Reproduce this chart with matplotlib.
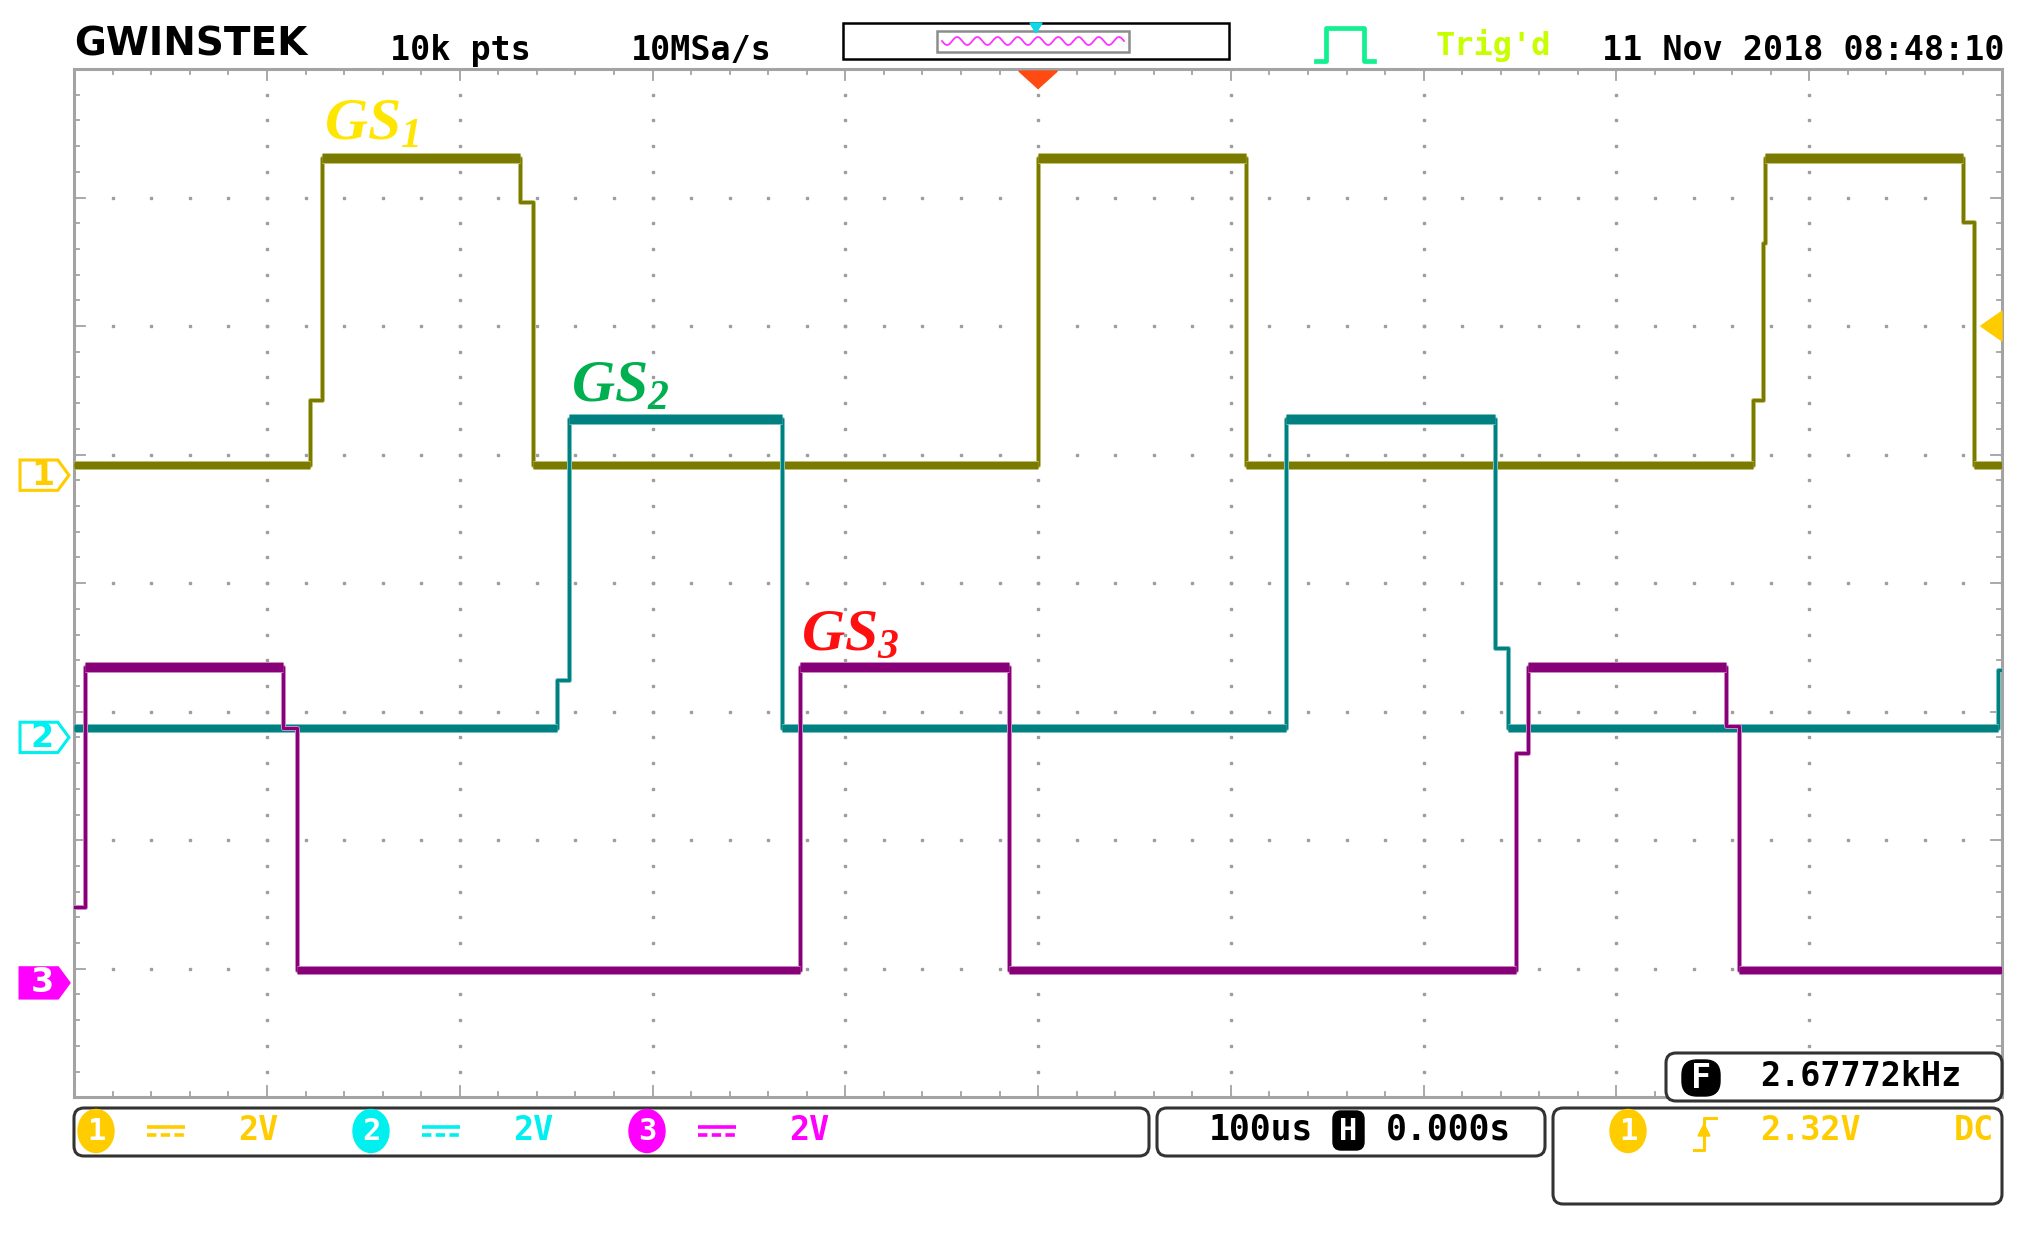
import numpy as np
import matplotlib
matplotlib.use("Agg")
import matplotlib.pyplot as plt
from matplotlib import patches, transforms
from matplotlib.lines import Line2D

W, H, DPI = 2041, 1238, 100

# scope settings: 100 us/div (10 div, trigger at centre), 2 V/div
T_DIV = 100.0
V_DIV = 2.0

# channel ground markers, in div from screen centre
ch_offset = [0.84, -1.20, -3.11]
ch_color = ["#7a7a00", "#008080", "#870077"]
ch_halo = ["#c4c47a", "#7cc4c4", "#d08cc4"]
ch_tag = ["#FFCC00", "#00F0F0", "#FF00FF"]

# edge times (us) and the level (V) held from that time on
ch1_t = [-500, -377.7, -371.6, -268.6, -261.8, 0.0, 108.1, 370.6, 375.9, 377.3, 479.7, 485.3]
ch1_v = [0.16, 1.17, 4.94, 4.25, 0.16, 4.94, 0.16, 1.17, 3.61, 4.94, 3.94, 0.16]
ch2_t = [-500, -249.3, -243.2, -133.1, 128.4, 237.2, 243.9, 498.0]
ch2_v = [0.15, 0.90, 4.95, 0.15, 4.95, 1.39, 0.15, 1.05]
ch3_t = [-500, -494.6, -391.9, -384.5, -123.6, -14.9, 248.0, 254.0, 356.8, 363.5]
ch3_v = [1.18, 4.92, 3.97, 0.20, 4.92, 0.20, 3.58, 4.92, 4.00, 0.20]

labels = ["GS$_1$", "GS$_2$", "GS$_3$"]
label_color = ["#FFE600", "#00B050", "#FF1010"]
label_pos = [(324, 140), (571, 402), (801, 650)]

trig_level = 2.32
freq_text = "2.67772kHz"
header = ["10k pts", "10MSa/s", "Trig'd", "11 Nov 2018 08:48:10"]

plt.rcParams["mathtext.fontset"] = "custom"
plt.rcParams["mathtext.it"] = "Liberation Serif:bold:italic"
plt.rcParams["mathtext.rm"] = "Liberation Serif:bold:italic"

MONO = "DejaVu Sans Mono"


def px(x, y):
    # full-size picture pixels -> inches for dpi_scale_trans
    return x / DPI, (H - y) / DPI


def ftext(fig, x, y, s, **kw):
    kw.setdefault("family", MONO)
    kw.setdefault("fontsize", 24)
    kw.setdefault("va", "center")
    kw.setdefault("weight", "bold")
    fig.text(*px(x, y), s, transform=fig.dpi_scale_trans, **kw)


def fline(fig, xs, ys, **kw):
    pts = [px(x, y) for x, y in zip(xs, ys)]
    fig.add_artist(Line2D([p[0] for p in pts], [p[1] for p in pts],
                          transform=fig.dpi_scale_trans, **kw))


def fpoly(fig, xy, **kw):
    fig.add_artist(patches.Polygon([px(x, y) for x, y in xy], closed=True,
                                   transform=fig.dpi_scale_trans, **kw))


def fbox(fig, x0, y0, x1, y1, **kw):
    a = px(x0, y1)
    b = px(x1, y0)
    kw.setdefault("boxstyle", "round,pad=0,rounding_size=0.1")
    fig.add_artist(patches.FancyBboxPatch(a, b[0] - a[0], b[1] - a[1],
                                          transform=fig.dpi_scale_trans, **kw))


def badge(fig, x, y, n, color):
    a = px(x, y)
    fig.add_artist(patches.Ellipse(a, 0.36, 0.43, color=color,
                                   transform=fig.dpi_scale_trans))
    ftext(fig, x, y + 1, n, color="white", ha="center", fontsize=22)


def dc_sign(fig, x, y, color):
    fline(fig, [x, x + 38], [y - 4, y - 4], color=color, lw=2.6, solid_capstyle="butt")
    fline(fig, [x, x + 38], [y + 4, y + 4], color=color, lw=2.6, ls=(0, (2.6, 1.2)),
          dash_capstyle="butt")


def main():
    fig = plt.figure(figsize=(W / DPI, H / DPI), dpi=DPI, facecolor="white")
    ax = fig.add_axes([74.2 / W, 1 - 1097.3 / H, 1927.8 / W, 1028.3 / H])
    ax.set_xlim(-5 * T_DIV, 5 * T_DIV)
    ax.set_ylim(-4, 4)
    ax.set_xticks([])
    ax.set_yticks([])
    for s in ax.spines.values():
        s.set_color("#a3a3a3")
        s.set_linewidth(2.2)

    # dotted graticule
    gx = np.arange(-5, 5.001, 0.2) * T_DIV
    gy = np.arange(-4, 4.001, 0.2)
    for k in range(-4, 5):
        ax.plot(np.full(gy.size, k * T_DIV), gy, "s", ms=1.7, color="#9e9e9e", zorder=1)
    for k in range(-3, 4):
        ax.plot(gx, np.full(gx.size, k), "s", ms=1.7, color="#9e9e9e", zorder=1)

    # border ticks
    tk = dict(color="#a3a3a3", lw=1.3, transform=ax.transAxes, clip_on=False)
    for i in range(51):
        f = i / 50
        ln = 0.0107 if i % 5 == 0 else 0.005
        ax.add_line(Line2D([f, f], [0, ln], **tk))
        ax.add_line(Line2D([f, f], [1, 1 - ln], **tk))
    for i in range(41):
        f = i / 40
        ln = 0.0057 if i % 5 == 0 else 0.0027
        ax.add_line(Line2D([0, ln], [f, f], **tk))
        ax.add_line(Line2D([1, 1 - ln], [f, f], **tk))

    # waveforms: thin edges, thick noisy-looking plateaus
    chans = [(ch1_t, ch1_v), (ch2_t, ch2_v), (ch3_t, ch3_v)]
    for i, (t, v) in enumerate(chans):
        t = np.append(np.array(t, float), 5 * T_DIV)
        y = ch_offset[i] + np.append(np.array(v, float), v[-1]) / V_DIV
        z = 4 + i
        ax.step(t, y, where="post", color=ch_halo[i], lw=3.6, zorder=z)
        ax.step(t, y, where="post", color=ch_color[i], lw=2.2, zorder=z)
        for j in range(len(t) - 1):
            if t[j + 1] - t[j] < 12:
                continue
            thick = 6.6 if v[j] > 4.5 else 5.2
            ax.hlines(y[j], t[j], t[j + 1], color=ch_halo[i], lw=thick + 1.2, zorder=z)
            ax.hlines(y[j], t[j], t[j + 1], color=ch_color[i], lw=thick, zorder=z)

    # GS labels
    for s, c, (x, y) in zip(labels, label_color, label_pos):
        fig.text(*px(x, y), s, transform=fig.dpi_scale_trans, color=c,
                 fontsize=43, family="Liberation Serif", style="italic",
                 weight="bold", va="baseline", ha="left", zorder=10)

    # channel ground markers on the left edge
    bt = transforms.blended_transform_factory(ax.transAxes, ax.transData)
    for i in range(3):
        yc = ch_offset[i]
        h = 0.118
        xy = [(-0.0281, yc - h), (-0.0085, yc - h), (-0.0027, yc),
              (-0.0085, yc + h), (-0.0281, yc + h)]
        filled = i == 2
        ax.add_patch(patches.Polygon(xy, closed=True, transform=bt, clip_on=False,
                                     facecolor=ch_tag[i] if filled else "white",
                                     edgecolor=ch_tag[i], lw=2.2, zorder=6))
        ax.text(-0.0165, yc, str(i + 1), transform=bt, ha="center", va="center",
                fontsize=24, family="DejaVu Sans", weight="bold",
                color="white" if filled else ch_tag[i], clip_on=False, zorder=7)

    # trigger level marker (right) and trigger position marker (top)
    ly = ch_offset[0] + trig_level / V_DIV
    ax.add_patch(patches.Polygon([(1.0, ly - 0.115), (0.989, ly), (1.0, ly + 0.115)],
                                 transform=bt, color="#FFCC00", clip_on=False, zorder=8))
    bt2 = transforms.blended_transform_factory(ax.transData, ax.transAxes)
    ax.add_patch(patches.Polygon([(-10, 0.998), (10, 0.998), (0, 0.981)],
                                 transform=bt2, color="#FF4A12", clip_on=False, zorder=8))

    # header
    ftext(fig, 74, 44, "GWINSTEK", family="DejaVu Sans", weight="heavy", fontsize=28,
          ha="left")
    ftext(fig, 390, 60, header[0], ha="left", va="baseline")
    ftext(fig, 631, 60, header[1], ha="left", va="baseline")
    ftext(fig, 1436, 55, header[2], ha="left", va="baseline", color="#C8FF00",
          fontsize=23)
    ftext(fig, 2005, 60, header[3], ha="right", va="baseline")
    fbox(fig, 843, 23, 1229, 59, boxstyle="square,pad=0", facecolor="white",
         edgecolor="black", lw=1.8)
    fbox(fig, 937, 31, 1129, 52, boxstyle="square,pad=0", facecolor="white",
         edgecolor="#8c8c8c", lw=1.8)
    wx = np.linspace(942, 1124, 200)
    fline(fig, wx, 41 + 4 * np.sin((wx - 942) / 182 * 2 * np.pi * 9), color="#FF33FF", lw=1.3)
    fpoly(fig, [(1030, 23), (1042, 23), (1036, 33)], color="#10D8E8")
    fline(fig, [1316, 1326, 1326, 1364, 1364, 1374], [61, 61, 28, 28, 61, 61],
          color="#12F090", lw=3.4)

    # bottom status bars
    bar = dict(facecolor="white", edgecolor="#333333", lw=2.2)
    fbox(fig, 74, 1108, 1149, 1156, **bar)
    fbox(fig, 1157, 1108, 1545, 1156, **bar)
    fbox(fig, 1553, 1108, 2002, 1204, **bar)
    fbox(fig, 1666, 1053, 2002, 1101, **bar)

    for n, x, c in [("1", 96, ch_tag[0]), ("2", 371, ch_tag[1]), ("3", 647, ch_tag[2])]:
        badge(fig, x, 1131, n, c)
        dc_sign(fig, x + 51, 1131, c)
        ftext(fig, x + 142, 1130, "2V", color=c, ha="left")
    ftext(fig, 1209, 1130, "100us", ha="left", fontsize=25)
    fbox(fig, 1333, 1111, 1364, 1150, facecolor="black", edgecolor="black", lw=1,
         boxstyle="round,pad=0,rounding_size=0.08")
    ftext(fig, 1348.5, 1131, "H", color="white", ha="center", fontsize=22)
    ftext(fig, 1386, 1130, "0.000s", ha="left", fontsize=25)

    badge(fig, 1628, 1131, "1", ch_tag[0])
    fline(fig, [1694, 1704, 1704, 1716], [1150, 1150, 1118, 1118], color="#FFCC00", lw=2.2)
    fpoly(fig, [(1698, 1136), (1710, 1136), (1704, 1124)], color="#FFCC00")
    ftext(fig, 1760, 1130, f"{trig_level:.2f}V", ha="left", color="#FFCC00")
    ftext(fig, 1994, 1130, "DC", ha="right", color="#FFCC00")

    fbox(fig, 1682, 1060, 1720, 1096, facecolor="black", edgecolor="black", lw=1,
         boxstyle="round,pad=0,rounding_size=0.15")
    ftext(fig, 1701, 1078, "F", color="white", ha="center", fontsize=24)
    ftext(fig, 1760, 1077, freq_text, ha="left")

    fig.savefig("out.png", dpi=DPI, facecolor="white")
    plt.close(fig)


if __name__ == "__main__":
    main()
